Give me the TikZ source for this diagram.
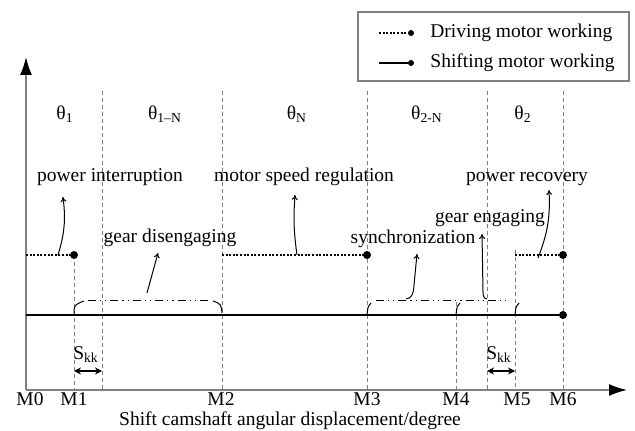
\documentclass[tikz,border=0pt]{standalone}
\usepackage{fontspec}
\setmainfont{Liberation Serif}
\usetikzlibrary{arrows.meta}
\tikzset{
  lbl/.style={font=\fontsize{9.75}{11}\selectfont, inner sep=0pt, anchor=base},
  gridline/.style={gray, line width=0.4pt, dash pattern=on 2pt off 1.5pt},
  axisline/.style={gray, line width=0.8pt, -{Latex[length=9pt,width=6pt,color=black]}},
  driving/.style={line width=0.6pt, dash pattern=on 1pt off 0.8pt},
  shifting/.style={line width=0.8pt},
  action/.style={line width=0.5pt, dash pattern=on 4pt off 2pt on 0.6pt off 2pt on 0.6pt off 2pt},
  curl/.style={line width=0.5pt},
  note/.style={-{To[length=2.5pt,width=3pt]}, line width=0.5pt},
  enddot/.style={circle, fill, inner sep=0pt, minimum size=4pt},
  legdot/.style={circle, fill, inner sep=0pt, minimum size=3pt},
  skk/.style={line width=0.7pt, {Stealth[length=3.5pt,width=3.5pt]}-{Stealth[length=3.5pt,width=3.5pt]}}
}
\begin{document}
\begin{tikzpicture}[x=0.5pt,y=-0.5pt]
  \useasboundingbox (0,0) rectangle (635,431);
  % axes
  \coordinate (O) at (26,390);
  \coordinate (xend) at (627,390);
  \coordinate (yend) at (26,57);
  % phase borders
  \draw[gridline] (74,255) -- (74,390);
  \draw[gridline] (102,91) -- (102,390);
  \draw[gridline] (222,91) -- (222,390);
  \draw[gridline] (367,91) -- (367,390);
  \draw[gridline] (456,302) -- (456,390);
  \draw[gridline] (487,91) -- (487,390);
  \draw[gridline] (515,250) -- (515,390);
  \draw[gridline] (563,91) -- (563,390);
  \draw[axisline] (O) -- (xend);
  \draw[axisline] (O) -- (yend);
  % axis labels
  \foreach \x/\t [count=\i from 0] in {30/M0,74/M1,221/M2,367/M3,456/M4,517/M5,563/M6}
    \node[lbl] (m\i) at (\x,406) {\t};
  \node[lbl] (xlabel) at (290,425) {Shift camshaft angular displacement/degree};
  % phase names
  \node[lbl] (th1) at (65,120) {θ\textsubscript{1}};
  \node[lbl] (th1N) at (165,120) {θ\textsubscript{1–N}};
  \node[lbl] (thN) at (297,120) {θ\textsubscript{N}};
  \node[lbl] (th2N) at (427,120) {θ\textsubscript{2-N}};
  \node[lbl] (th2) at (523,120) {θ\textsubscript{2}};
  % legend
  \node[draw=gray, line width=0.6pt, minimum width=135.5pt, minimum height=34.5pt, inner sep=0pt] (legend) at (493.5,46.5) {};
  \coordinate (leg1a) at (379,33);
  \node[legdot] (leg1b) at (411,33) {};
  \draw[driving] (leg1a) -- (leg1b);
  \node[lbl, anchor=base west] (leg1) at (430,38) {Driving motor working};
  \coordinate (leg2a) at (379,63);
  \node[legdot] (leg2b) at (411,63) {};
  \draw[shifting] (leg2a) -- (leg2b);
  \node[lbl, anchor=base west] (leg2) at (430,68) {Shifting motor working};
  % driving motor
  \coordinate (d0) at (26,255);
  \node[enddot] (d1) at (74,255) {};
  \coordinate (d2s) at (222,255);
  \node[enddot] (d2) at (367,255) {};
  \coordinate (d3s) at (515,255);
  \node[enddot] (d3) at (563,255) {};
  \draw[driving] (d0) -- (d1);
  \draw[driving] (d2s) -- (d2);
  \draw[driving] (d3s) -- (d3);
  % shifting motor
  \coordinate (s0) at (26,315);
  \node[enddot] (s1) at (563,315) {};
  \draw[shifting] (s0) -- (s1);
  % gear disengaging stroke
  \draw[curl] (74,315) .. controls (74,305) .. (84,301);
  \draw[action] (88,301) -- (210,301);
  \draw[curl] (213,301) .. controls (221,304) .. (222,313);
  % synchronization and gear engaging stroke
  \draw[curl] (367,315) .. controls (368,306) .. (371,303);
  \draw[curl] (456,315) .. controls (457,306) .. (460,303);
  \draw[curl] (515,315) .. controls (516,306) .. (519,303);
  \draw[action] (376,301) -- (510,301);
  % stage labels
  \node[lbl] (pint) at (110,182) {power interruption};
  \node[lbl] (mreg) at (304,182) {motor speed regulation};
  \node[lbl] (prec) at (527,182) {power recovery};
  \node[lbl] (gdis) at (170,243) {gear disengaging};
  \node[lbl] (sync) at (413,244) {synchronization};
  \node[lbl] (geng) at (490,223) {gear engaging};
  % pointers
  \coordinate (pint-a) at (58,255);   \coordinate (pint-b) at (63,197);
  \coordinate (mreg-a) at (297,255);  \coordinate (mreg-b) at (295,195);
  \coordinate (prec-a) at (538,258);  \coordinate (prec-b) at (549,190);
  \coordinate (gdis-a) at (147,293);  \coordinate (gdis-b) at (158,253);
  \coordinate (sync-a) at (406,299);  \coordinate (sync-b) at (417,254);
  \coordinate (geng-a) at (487,299);  \coordinate (geng-b) at (482,234);
  \draw[note] (pint-a) to[bend right=12] (pint-b);
  \draw[note] (mreg-a) to[bend left=6] (mreg-b);
  \draw[note] (prec-a) to[bend right=12] (prec-b);
  \draw[note] (gdis-a) -- (gdis-b);
  \draw[note] (sync-a) to[out=0, in=-90] (414,285) -- (sync-b);
  \draw[note] (geng-a) to[out=180, in=-90] (483,292) -- (geng-b);
  % S_kk spans
  \coordinate (k1a) at (74,371);  \coordinate (k1b) at (102,371);
  \coordinate (k2a) at (487,371); \coordinate (k2b) at (515,371);
  \draw[skk] (k1a) -- (k1b);
  \draw[skk] (k2a) -- (k2b);
  \node[lbl] (skk1) at (86,360) {S\textsubscript{kk}};
  \node[lbl] (skk2) at (499,360) {S\textsubscript{kk}};
\end{tikzpicture}
\end{document}
